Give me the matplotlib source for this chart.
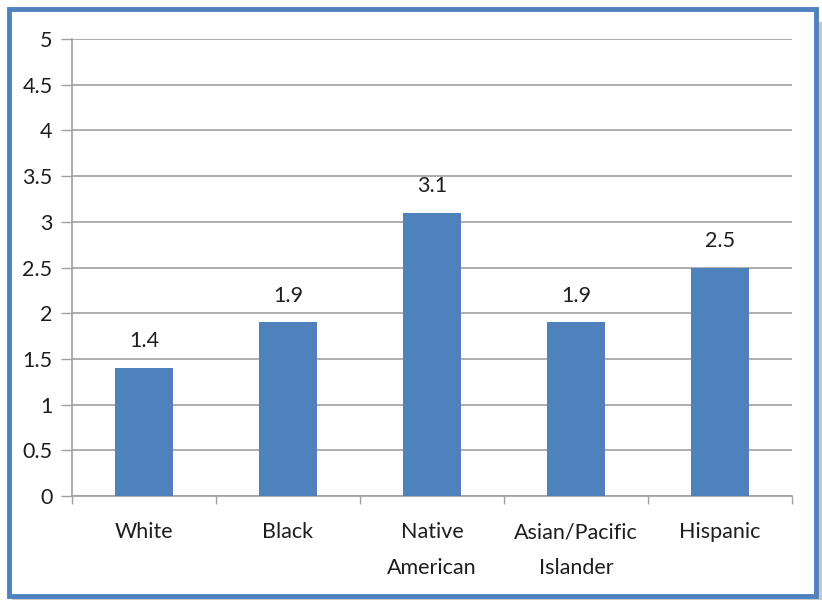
import matplotlib
matplotlib.use("Agg")
import matplotlib.pyplot as plt
from matplotlib.patches import Rectangle

groups = ["White", "Black", "Native\nAmerican", "Asian/Pacific\nIslander", "Hispanic"]
rates = [1.4, 1.9, 3.1, 1.9, 2.5]
yticks = [0, 0.5, 1, 1.5, 2, 2.5, 3, 3.5, 4, 4.5, 5]

blue = "#4f81bd"
grid_gray = "#a0a0a0"
text_color = "#1e1e1e"

plt.rcParams["font.family"] = ["Lato", "DejaVu Sans"]

fig = plt.figure(figsize=(8.22, 6.0), dpi=100)
W, H = 822, 600

# drop shadow and blue frame around the chart
fig.patches.append(Rectangle((12 / W, 1 - 600 / H), 810 / W, 578 / H,
                             transform=fig.transFigure, facecolor="#c8c8c8",
                             edgecolor="none", zorder=0))
fig.patches.append(Rectangle((8.5 / W, 1 - 596 / H), 807 / W, 587 / H,
                             transform=fig.transFigure, facecolor="white",
                             edgecolor=blue, linewidth=3.5, zorder=1))

ax = fig.add_axes([72 / W, 1 - 496 / H, 720 / W, 457 / H])
ax.set_zorder(2)
ax.patch.set_alpha(0)

x = list(range(len(groups)))
ax.bar(x, rates, width=0.4, color=blue, zorder=3)
for xi, v in zip(x, rates):
    ax.annotate(f"{v:g}", (xi, v), xytext=(0, 12), textcoords="offset points",
                ha="center", va="bottom", fontsize=15.5, color=text_color)

ax.set_xlim(-0.5, len(groups) - 0.5)
ax.set_ylim(0, 5)
ax.set_yticks(yticks)
ax.set_yticklabels([f"{t:g}" for t in yticks])
ax.set_xticks([i + 0.5 for i in range(-1, len(groups))], minor=False)
ax.set_xticklabels([])
ax.set_xticks(x, minor=True)
ax.set_xticklabels(groups, minor=True, fontsize=15.5, color=text_color, linespacing=1.95)
ax.tick_params(axis="x", which="minor", length=0, pad=19)
ax.tick_params(axis="x", which="major", length=6, color=grid_gray, width=1)
ax.tick_params(axis="y", length=8, color=grid_gray, width=1, labelsize=15.5,
               labelcolor=text_color, pad=6)

ax.yaxis.grid(True, color=grid_gray, linewidth=1.2, zorder=0)
ax.set_axisbelow(True)
for side in ["top", "right"]:
    ax.spines[side].set_visible(False)
for side in ["left", "bottom"]:
    ax.spines[side].set_color(grid_gray)
    ax.spines[side].set_linewidth(1.2)

fig.savefig("out.png", dpi=100)
